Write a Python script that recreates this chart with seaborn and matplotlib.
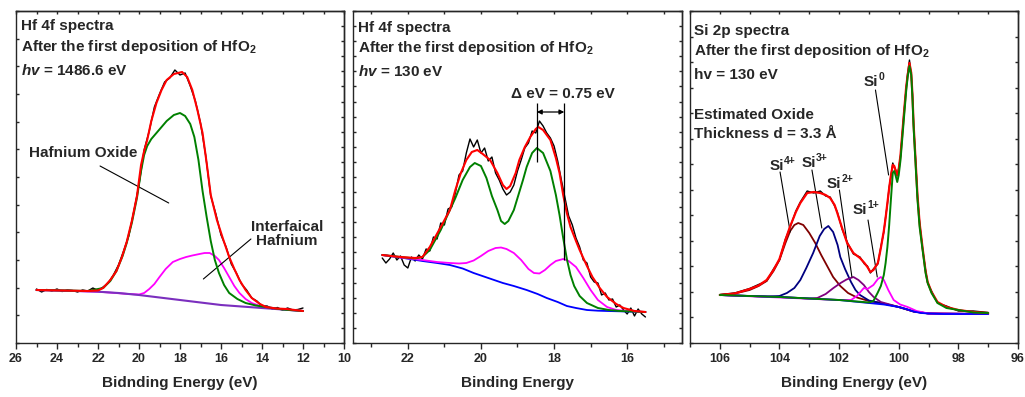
import numpy as np
import matplotlib
matplotlib.use("Agg")
import matplotlib.pyplot as plt
from matplotlib.ticker import MultipleLocator
import seaborn as sns

# ---- Hf 4f, hv = 1486.6 eV (panel 1) ----
raw1_E = [25.0, 24.75, 24.5, 24.25, 24.0, 23.75, 23.5, 23.25, 23.0, 22.75, 22.5, 22.25, 22.0,
          21.75, 21.5, 21.25, 21.0, 20.75, 20.5, 20.25, 20.0, 19.75, 19.5, 19.25, 19.0, 18.75,
          18.5, 18.25, 18.0, 17.75, 17.5, 17.25, 17.0, 16.75, 16.5, 16.25, 16.0, 15.75, 15.5,
          15.25, 15.0, 14.75, 14.5, 14.25, 14.0, 13.75, 13.5, 13.25, 13.0, 12.75, 12.5, 12.25, 12.0]
raw1_I = [54, 51, 53.5, 52, 54, 51.5, 53, 52.5, 51, 53, 52, 55, 52.5,
          56, 60, 68, 78, 92, 107, 132, 158, 193, 212, 236, 249, 261,
          265, 273, 268, 270, 257, 242, 220, 188, 147, 129, 108, 96, 79,
          70, 59, 53, 45, 42, 37, 37, 34, 35.5, 33, 35, 33, 33.5, 35]
fit1_E = [25, 22.5, 22.0, 21.75, 21.4, 21.1, 20.85, 20.6, 20.35, 20.1, 19.9, 19.75, 19.6, 19.4,
          19.15, 18.9, 18.65, 18.3, 17.9, 17.65, 17.4, 17.15, 16.9, 16.7, 16.5, 16.2, 15.9, 15.6,
          15.35, 15.1, 14.8, 14.5, 14.1, 13.8, 13.3, 12.8, 12.0]
fit1_I = [53, 52, 52.5, 55, 63, 72, 85, 101, 122, 147, 178, 192, 203, 222,
          240, 253, 263, 269, 271, 266, 253, 233, 210, 180, 148, 123, 104, 86,
          74, 63, 53, 45, 39, 36, 34.5, 34, 32]
oxide1_E = [25, 23.5, 22.5, 21.75, 21.4, 21.1, 20.8, 20.6, 20.35, 20.1, 19.9, 19.75, 19.6, 19.4,
            19.15, 18.9, 18.65, 18.3, 18.0, 17.75, 17.5, 17.3, 17.1, 16.9, 16.7, 16.5, 16.3, 16.1,
            15.85, 15.6, 15.2, 14.8, 14.3, 13.8, 13.0, 12.0]
oxide1_I = [53, 52.5, 52, 55, 62, 72, 87, 100, 120, 145, 172, 188, 197, 204,
            210, 216, 222, 228, 230, 227, 219, 206, 183, 152, 126, 102, 83, 70,
            58, 50, 44, 40, 37.5, 36, 33.5, 32]
inter1_E = [25, 22, 20.5, 20.0, 19.75, 19.5, 19.25, 19.0, 18.7, 18.35, 18.0, 17.7, 17.4, 17.05,
            16.8, 16.55, 16.3, 16.1, 15.85, 15.6, 15.35, 15.1, 14.8, 14.5, 14.1, 13.8, 13.0, 12.0]
inter1_I = [53, 51.3, 49, 48.5, 50, 54, 59, 66, 74, 81, 84, 86, 87.5, 89,
            90, 90, 87, 83, 75, 66, 57, 50, 44, 40, 37, 36, 33.5, 32]
bg1_E = [25, 24, 23, 22, 21, 20, 19, 18, 17, 16, 15, 14, 13, 12]
bg1_I = [53, 52.5, 52, 51.3, 50, 48, 45.5, 43, 40.5, 38, 36.5, 35, 33.5, 32]

# ---- Hf 4f, hv = 130 eV (panel 2) ----
raw2_E = [22.7, 22.6, 22.5, 22.4, 22.3, 22.2, 22.1, 22.0, 21.9, 21.8, 21.7, 21.6, 21.5, 21.4,
          21.3, 21.2, 21.1, 21.0, 20.9, 20.8, 20.7, 20.6, 20.5, 20.4, 20.3, 20.2, 20.1, 20.0,
          19.9, 19.8, 19.7, 19.6, 19.5, 19.4, 19.3, 19.2, 19.1, 19.0, 18.9, 18.8, 18.7, 18.6,
          18.5, 18.4, 18.3, 18.2, 18.1, 18.0, 17.9, 17.8, 17.7, 17.6, 17.5, 17.4, 17.3, 17.2,
          17.1, 17.0, 16.9, 16.8, 16.7, 16.6, 16.5, 16.4, 16.3, 16.2, 16.1, 16.0, 15.9, 15.8,
          15.7, 15.6, 15.5]
raw2_I = [85, 80, 84, 90, 83, 87, 78, 75, 86, 82, 88, 84, 94, 92,
          106, 104, 120, 118, 134, 136, 150, 168, 172, 190, 204, 196, 203, 190,
          195, 182, 186, 170, 163, 154, 148, 151, 158, 172, 183, 195, 200, 212,
          210, 222, 217, 210, 205, 197, 182, 163, 145, 127, 118, 105, 96, 83,
          80, 66, 61, 60, 48, 50, 43, 44, 36, 38, 33, 29, 35, 27,
          34, 29, 26]
fit2_E = [22.7, 22.2, 21.8, 21.6, 21.4, 21.1, 20.85, 20.7, 20.55, 20.4, 20.25, 20.1, 19.95, 19.75,
          19.55, 19.4, 19.3, 19.2, 19.05, 18.95, 18.8, 18.65, 18.5, 18.43, 18.3, 18.1, 17.95, 17.85,
          17.75, 17.65, 17.55, 17.4, 17.3, 17.1, 16.95, 16.75, 16.55, 16.3, 16.1, 15.8, 15.5]
fit2_I = [88, 86, 85, 86, 96, 116, 133, 153, 170, 183, 191, 193, 189, 183,
          170, 158, 154, 157, 170, 183, 196, 206, 214, 216, 213, 203, 185, 170,
          148, 130, 116, 102, 93, 77, 66, 55, 46, 39, 35, 32, 31]
oxide2_E = [22.7, 22.2, 21.8, 21.6, 21.4, 21.1, 20.85, 20.7, 20.5, 20.3, 20.17, 20.0, 19.85, 19.7,
            19.55, 19.45, 19.35, 19.25, 19.1, 19.0, 18.85, 18.75, 18.6, 18.47, 18.3, 18.1, 17.95,
            17.85, 17.75, 17.65, 17.55, 17.45, 17.3, 17.1, 16.8, 16.5, 16.2, 15.5]
oxide2_I = [88, 86, 84.5, 86, 93, 113, 133, 145, 163, 176, 180, 177, 165, 147,
            133, 122, 119, 122, 133, 145, 163, 176, 190, 195, 190, 172, 148,
            128, 105, 84, 68, 57, 47, 40, 35, 33, 32, 31]
inter2_E = [22.7, 22.2, 21.6, 21.2, 20.85, 20.6, 20.4, 20.2, 20.0, 19.8, 19.6, 19.45, 19.3, 19.1,
            18.9, 18.7, 18.55, 18.4, 18.25, 18.1, 17.95, 17.75, 17.6, 17.4, 17.2, 17.0, 16.8,
            16.55, 16.3, 16.0, 15.5]
inter2_I = [88, 85.5, 83, 81, 80, 79.5, 80, 82.5, 87, 92, 95, 95.5, 94, 90,
            83, 74, 70, 69.5, 73, 78, 82, 84, 82, 76, 65, 53, 43,
            36, 33, 32, 31]
bg2_E = [22.7, 22.2, 21.6, 21.2, 20.85, 20.5, 20.2, 19.8, 19.4, 19.1, 18.75, 18.45, 18.2, 17.9,
         17.65, 17.4, 17.1, 16.8, 16.55, 16.0, 15.5]
bg2_I = [88, 85.5, 82, 80, 78, 74.5, 70, 65, 60, 57, 53, 49, 45, 41,
         37, 35, 33, 32.3, 32, 31.5, 31]
hf_peak = 18.47
hf_shift = 0.75

# ---- Si 2p, hv = 130 eV (panel 3) ----
fit3_E = [106, 105.5, 105.0, 104.7, 104.43, 104.2, 104.0, 103.8, 103.65, 103.45, 103.3, 103.07,
          102.85, 102.63, 102.45, 102.3, 102.15, 102.06, 101.9, 101.73, 101.52, 101.3, 101.15,
          101.05, 100.95, 100.85, 100.7, 100.6, 100.5, 100.44, 100.38, 100.32, 100.27, 100.2,
          100.15, 100.1, 100.05, 100.0, 99.94, 99.83, 99.75, 99.7, 99.64, 99.58, 99.54, 99.5,
          99.43, 99.37, 99.3, 99.2, 99.1, 99.03, 98.9, 98.7, 98.4, 98.0, 97.5, 97.0]
fit3_I = [48, 49.5, 54, 57.5, 63, 73, 84, 103, 116, 131, 140, 150,
          151, 150, 148, 145, 138, 130, 115, 100, 90, 85, 80,
          76, 71, 73, 80, 95, 112, 125, 140, 155, 166, 178,
          177, 172, 168, 174, 188, 228, 256, 268, 280, 270, 248, 218,
          180, 147, 120, 95, 72, 61, 51, 41, 36, 33, 31, 30]
raw3_I = [48.5, 50, 54.5, 58.5, 62, 74, 83, 104, 115, 132, 141, 152,
          150, 152, 147, 146, 137, 131, 114, 101, 89, 86, 79,
          77, 70, 74, 79, 96, 111, 126, 139, 156, 165, 180,
          176, 173, 167, 175, 187, 229, 255, 270, 283, 268, 249, 217,
          181, 146, 121, 94, 73, 60, 52, 40, 37, 32, 32, 30.5]
si4_E = [106, 105.5, 105.0, 104.7, 104.43, 104.2, 104.0, 103.8, 103.64, 103.5, 103.37, 103.2,
         103.0, 102.8, 102.6, 102.4, 102.2, 101.96, 101.7, 101.4, 101.0, 100.6, 100.0, 99.5, 99.0, 97]
si4_I = [48, 49.5, 53, 57, 62, 72, 83, 100, 112, 118, 120, 118,
         110, 100, 88, 77, 66, 57, 50, 45.5, 42, 40, 36, 31.5, 29.5, 29]
si3_E = [106, 105, 104.4, 104.0, 103.75, 103.5, 103.3, 103.1, 102.87, 102.65, 102.5, 102.36,
         102.2, 102.05, 101.96, 101.8, 101.6, 101.45, 101.3, 101.0, 100.6, 100.0, 99.5, 99.0, 97]
si3_I = [48, 47, 46.5, 47, 50, 55, 63, 75, 90, 107, 114, 117,
         111, 98, 86, 74, 61, 53, 48, 42.5, 40, 36, 31.5, 29.5, 29]
si2_E = [106, 104, 103, 102.73, 102.45, 102.19, 101.95, 101.75, 101.52, 101.35, 101.17, 101.0,
         100.84, 100.6, 100.0, 99.5, 99.0, 97]
si2_I = [48, 46, 44.5, 45, 49, 55, 60, 63.5, 66, 63, 58, 51,
         46, 41, 36, 31.5, 29.5, 29]
si1_E = [106, 102, 101.6, 101.4, 101.17, 101.05, 100.85, 100.7, 100.6, 100.5, 100.35, 100.17,
         99.95, 99.7, 99.4, 99.0, 97]
si1_I = [48, 43, 43, 47, 55, 54, 58, 64, 66, 63, 53, 43,
         38.5, 36, 32, 29.5, 29]
si0_E = [106, 104, 102, 101.0, 100.85, 100.71, 100.6, 100.5, 100.44, 100.38, 100.32, 100.27,
         100.2, 100.15, 100.1, 100.05, 100.0, 99.94, 99.83, 99.75, 99.7, 99.64, 99.58, 99.54,
         99.5, 99.43, 99.37, 99.3, 99.2, 99.1, 99.03, 98.9, 98.7, 98.4, 98.0, 97.5, 97.0]
si0_I = [48, 46, 43, 40.5, 42, 50, 57, 68, 80, 96, 118, 140,
         170, 172, 167, 161, 168, 183, 223, 252, 266, 277, 268, 245,
         215, 176, 143, 116, 93, 70, 60, 50, 40, 35, 33, 30.5, 30]
bg3_E = [106, 105, 104, 103, 102, 101.5, 101, 100.5, 100.0, 99.75, 99.5, 99.25, 99.0, 98.5, 98, 97]
bg3_I = [48, 47, 46, 44.5, 43, 41.5, 40, 38.5, 36, 34, 31.5, 30, 29.5, 29, 29, 29]
si_states = ["0", "4+", "3+", "2+", "1+"]

sns.set_style("ticks")
plt.rcParams["font.family"] = ["Liberation Sans", "DejaVu Sans"]
plt.rcParams["font.weight"] = "bold"
plt.rcParams["axes.labelweight"] = "bold"
plt.rcParams["axes.linewidth"] = 1.0
plt.rcParams["mathtext.fontset"] = "custom"
plt.rcParams["mathtext.rm"] = "Liberation Sans:bold"
plt.rcParams["mathtext.bf"] = "Liberation Sans:bold"
plt.rcParams["mathtext.it"] = "Liberation Sans:bold:italic"

FS = 11


def trace(ax, e, i, color, lw, z):
    sns.lineplot(x=e, y=i, ax=ax, color=color, linewidth=lw, sort=False,
                 estimator=None, errorbar=None, legend=False, zorder=z)


def frame(ax, xlim, xlabel, n_left, n_right):
    ax.set_xlim(*xlim)
    ax.set_ylim(0, 332)
    ax.xaxis.set_major_locator(MultipleLocator(2))
    ax.xaxis.set_minor_locator(MultipleLocator(1))
    ax.tick_params(axis="x", which="major", direction="out", length=4, width=1,
                   labelsize=9, pad=3)
    ax.tick_params(axis="x", which="minor", direction="out", length=3, width=1)
    ax.set_yticks(np.linspace(0, 332, n_left + 1))
    ax.tick_params(axis="y", direction="in", length=2.5, width=1, labelleft=False)
    ax.set_xlabel(xlabel, fontsize=FS, labelpad=8)
    ax.set_ylabel("")
    top = ax.secondary_xaxis("top")
    top.xaxis.set_major_locator(MultipleLocator(2))
    top.xaxis.set_minor_locator(MultipleLocator(1))
    top.tick_params(which="both", direction="in", length=2.5, width=1, labeltop=False)
    right = ax.secondary_yaxis("right")
    right.set_yticks(np.linspace(0, 332, n_right + 1))
    right.tick_params(direction="in", length=2.5, width=1, labelright=False)


def leader(ax, start, end):
    ax.annotate("", xy=end, xytext=start,
                arrowprops=dict(arrowstyle="-", lw=0.8, color="black", shrinkA=0, shrinkB=0))


def header(ax, lines, xs, ys):
    for txt, y in zip(lines, ys):
        ax.text(xs, y, txt, transform=ax.transAxes, fontsize=FS, fontweight="bold",
                ha="left", va="baseline")


fig = plt.figure(figsize=(10.25, 3.97), dpi=100)
ax1 = fig.add_axes([16 / 1025, 54 / 397, 328 / 1025, 332 / 397])
ax2 = fig.add_axes([353 / 1025, 54 / 397, 329 / 1025, 332 / 397])
ax3 = fig.add_axes([690 / 1025, 54 / 397, 328 / 1025, 332 / 397])

# panel 1
trace(ax1, raw1_E, raw1_I, "black", 1.0, 2)
trace(ax1, inter1_E, inter1_I, "#ff00ff", 1.3, 3)
trace(ax1, bg1_E, bg1_I, "#7b2fbe", 1.5, 4)
trace(ax1, oxide1_E, oxide1_I, "#008000", 1.4, 5)
trace(ax1, fit1_E, fit1_I, "#ff0000", 1.5, 6)
frame(ax1, (26, 10), "Bidnding Energy (eV)", 12, 22)
header(ax1, ["Hf 4f spectra", "After the first deposition of HfO$_2$", "$hv$ = 1486.6 eV"],
       0.015, [0.943, 0.880, 0.807])
ax1.text(22.74, 190, "Hafnium Oxide", fontsize=FS, ha="center", va="center")
leader(ax1, (21.9, 177), (18.55, 140))
ax1.text(12.77, 109, "Interfaical\nHafnium", fontsize=FS, ha="center", va="center",
         multialignment="center", linespacing=1.05)
leader(ax1, (14.54, 104), (16.86, 64))

# panel 2
trace(ax2, raw2_E, raw2_I, "black", 1.0, 2)
trace(ax2, bg2_E, bg2_I, "#0000ff", 1.3, 3)
trace(ax2, inter2_E, inter2_I, "#ff00ff", 1.3, 4)
trace(ax2, oxide2_E, oxide2_I, "#008000", 1.4, 5)
trace(ax2, fit2_E, fit2_I, "#ff0000", 1.5, 6)
frame(ax2, (23.5, 14.5), "Binding Energy", 22, 22)
header(ax2, ["Hf 4f spectra", "After the first deposition of HfO$_2$", "$hv$ = 130 eV"],
       0.015, [0.937, 0.877, 0.804])
ax2.vlines(hf_peak, 181, 240, color="black", lw=0.9, zorder=7)
ax2.vlines(hf_peak - hf_shift, 83, 240, color="black", lw=0.9, zorder=7)
ax2.annotate("", xy=(hf_peak - hf_shift, 231), xytext=(hf_peak, 231),
             arrowprops=dict(arrowstyle="<|-|>", lw=0.9, color="black",
                             shrinkA=0, shrinkB=0, mutation_scale=7))
ax2.text(17.75, 249, "Δ eV = %.2f eV" % hf_shift, fontsize=FS, ha="center", va="center")

# panel 3
trace(ax3, fit3_E, raw3_I, "black", 1.0, 2)
trace(ax3, si4_E, si4_I, "#800000", 1.3, 3)
trace(ax3, si3_E, si3_I, "#000080", 1.3, 3)
trace(ax3, si2_E, si2_I, "#800080", 1.3, 3)
trace(ax3, si1_E, si1_I, "#ff00ff", 1.3, 3)
trace(ax3, bg3_E, bg3_I, "#0000ff", 1.3, 4)
trace(ax3, fit3_E, fit3_I, "#ff0000", 1.6, 5)
trace(ax3, si0_E, si0_I, "#008000", 1.4, 6)
frame(ax3, (107, 96), "Binding Energy (eV)", 13, 13)
header(ax3, ["Si 2p spectra", "After the first deposition of HfO$_2$", "hv = 130 eV",
             "Estimated Oxide", "Thickness d = 3.3 Å"],
       0.012, [0.928, 0.867, 0.795, 0.675, 0.617])
label_pos = [(100.92, 261), (104.09, 177), (103.03, 180), (102.18, 159), (101.29, 133)]
leaders3 = [((100.78, 253), (100.34, 168)),
            ((103.98, 171), (103.64, 111)),
            ((102.91, 173), (102.58, 115)),
            ((101.99, 153), (101.57, 66)),
            ((101.03, 123), (100.72, 66))]
for state, pos, (a, b) in zip(si_states, label_pos, leaders3):
    base = ax3.text(pos[0], pos[1], "Si", fontsize=FS, ha="center", va="center", zorder=8)
    ax3.annotate(state, xy=(1.02, 0.5), xycoords=base, fontsize=7.5,
                 fontweight="bold", ha="left", va="bottom", zorder=8)
    leader(ax3, a, b)

fig.savefig("out.png", dpi=100)
